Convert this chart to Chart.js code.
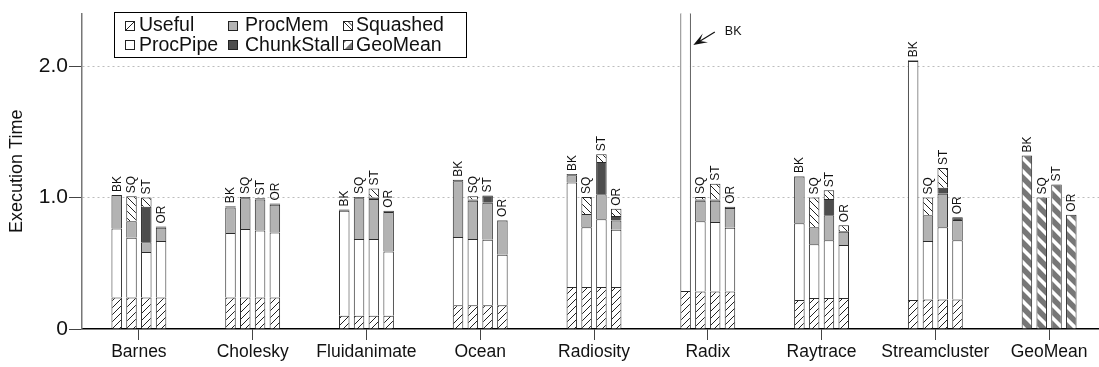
<!DOCTYPE html>
<html><head><meta charset="utf-8">
<script src="https://cdn.jsdelivr.net/npm/chart.js@4.4.0/dist/chart.umd.min.js"></script>
<style>html,body{margin:0;padding:0;background:#fff;overflow:hidden;}canvas{display:block;}</style>
</head><body>
<canvas id="c" width="1106" height="367" style="width:1106px;height:367px"></canvas>
<script>
const categories = ['Barnes','Cholesky','Fluidanimate','Ocean','Radiosity','Radix','Raytrace','Streamcluster','GeoMean'];
const configs = ['BK','SQ','ST','OR'];
const yTicks = [0, 1.0, 2.0];
// rows: BK, SQ, ST, OR ; columns: the 8 benchmarks
const useful = [
  [0.24,0.24,0.10,0.18,0.32,0.29,0.22,0.22],
  [0.24,0.24,0.10,0.18,0.32,0.285,0.235,0.225],
  [0.24,0.24,0.10,0.18,0.32,0.285,0.235,0.225],
  [0.24,0.24,0.10,0.18,0.32,0.285,0.235,0.225]];
const procPipe = [
  [0.525,0.49,0.80,0.52,0.795,3.0,0.585,1.82],
  [0.455,0.52,0.585,0.505,0.455,0.535,0.41,0.445],
  [0.345,0.51,0.585,0.50,0.515,0.53,0.44,0.55],
  [0.43,0.495,0.49,0.385,0.435,0.485,0.405,0.45]];
const procMem = [
  [0.255,0.195,0,0.425,0.055,0,0.355,0],
  [0.125,0.235,0.31,0.29,0.10,0.155,0.13,0.195],
  [0.075,0.235,0.305,0.28,0.19,0.16,0.19,0.255],
  [0.10,0.21,0.30,0.26,0.07,0.15,0.10,0.155]];
const chunkStall = [
  [0,0.01,0.01,0.01,0.01,0,0.005,0.005],
  [0,0.01,0.01,0.01,0,0.01,0,0],
  [0.27,0.01,0.01,0.055,0.245,0.01,0.125,0.045],
  [0.01,0.01,0.01,0.005,0.035,0.01,0.005,0.02]];
const squashed = [
  [0,0,0,0,0,0,0,0],
  [0.19,0,0,0.025,0.13,0.02,0.225,0.135],
  [0.07,0,0.07,0,0.06,0.12,0.065,0.15],
  [0,0,0,0,0.055,0,0.045,0]];
const geoMean = [1.32,1.00,1.10,0.87];

const FONT = "'Liberation Sans', Arial, Helvetica, sans-serif";

function makePattern(size, draw){
  const c = document.createElement('canvas'); c.width = size; c.height = size;
  const g = c.getContext('2d'); draw(g, size);
  return document.getElementById('c').getContext('2d').createPattern(c, 'repeat');
}
const usefulPat = makePattern(7, (g,s)=>{
  g.fillStyle='#fff'; g.fillRect(0,0,s,s);
  g.strokeStyle='#222'; g.lineWidth=1;
  g.beginPath(); g.moveTo(-1,s+1); g.lineTo(s+1,-1); g.moveTo(-1,1); g.lineTo(1,-1); g.moveTo(s-1,s+1); g.lineTo(s+1,s-1); g.stroke();
});
const squashPat = makePattern(7, (g,s)=>{
  g.fillStyle='#fff'; g.fillRect(0,0,s,s);
  g.strokeStyle='#222'; g.lineWidth=1;
  g.beginPath(); g.moveTo(-1,-1); g.lineTo(s+1,s+1); g.moveTo(s-1,-1); g.lineTo(s+1,1); g.moveTo(-1,s-1); g.lineTo(1,s+1); g.stroke();
});
const geoPat = makePattern(13, (g,s)=>{
  g.fillStyle='#fff'; g.fillRect(0,0,s,s);
  g.strokeStyle='#777'; g.lineWidth=5.5;
  g.beginPath();
  for (const o of [-s,0,s]) { g.moveTo(o-2,-2); g.lineTo(o+s+2,s+2); }
  g.stroke();
});
const COLORS = {Useful: usefulPat, ProcPipe:'#ffffff', ProcMem:'#b3b3b3', ChunkStall:'#4d4d4d', Squashed: squashPat, GeoMean: geoPat};

const comps = [
  ['Useful', useful], ['ProcPipe', procPipe], ['ProcMem', procMem], ['ChunkStall', chunkStall], ['Squashed', squashed]];

const datasets = [];
configs.forEach((cfg, ci) => {
  comps.forEach(([name, arr]) => {
    datasets.push({
      label: name, stack: cfg,
      data: categories.map((c,k) => (k < arr[ci].length && arr[ci][k]) ? arr[ci][k] : null),
      backgroundColor: COLORS[name], borderColor:'#2a2a2a', borderWidth:1, borderSkipped:'start'
    });
  });
});
configs.forEach((cfg, ci) => {
  datasets.push({
    label:'GeoMean', stack: cfg,
    data: categories.map((c,k) => k === categories.length-1 ? geoMean[ci] : null),
    backgroundColor: COLORS.GeoMean, borderColor:'#2a2a2a', borderWidth:1, borderSkipped:'start'
  });
});

const barLabels = {
  id:'barLabels',
  afterDatasetsDraw(chart){
    const ctx = chart.ctx, ys = chart.scales.y, area = chart.chartArea;
    const ds = chart.data.datasets;
    configs.forEach(cfg => {
      const idxs = ds.map((d,i)=>i).filter(i => ds[i].stack === cfg);
      categories.forEach((cat,k) => {
        let total = 0, bar = null;
        idxs.forEach(i => { const v = ds[i].data[k]; if (v != null) { total += v; bar = chart.getDatasetMeta(i).data[k]; } });
        if (!bar) return;
        const yTop = ys.getPixelForValue(total);
        ctx.save();
        ctx.fillStyle = '#111';
        if (yTop < area.top) {
          const r = bar.x + bar.width/2;
          ctx.font = '12.5px ' + FONT; ctx.textAlign='left'; ctx.textBaseline='middle';
          ctx.fillText(cfg, r + 34, area.top + 18);
          // arrow
          const tx = r + 24, ty = area.top + 18.5, hx = r + 2.5, hy = area.top + 31.5;
          const dx = hx - tx, dy = hy - ty, len = Math.hypot(dx,dy), ux = dx/len, uy = dy/len, nx = -uy, ny = ux;
          const L = 14, W = 5;
          ctx.strokeStyle='#111'; ctx.lineWidth=1.2;
          ctx.beginPath(); ctx.moveTo(tx,ty); ctx.lineTo(hx - ux*L*0.5, hy - uy*L*0.5); ctx.stroke();
          ctx.beginPath();
          ctx.moveTo(hx,hy);
          ctx.lineTo(hx - ux*L + nx*W, hy - uy*L + ny*W);
          ctx.lineTo(hx - ux*L*0.55, hy - uy*L*0.55);
          ctx.lineTo(hx - ux*L - nx*W, hy - uy*L - ny*W);
          ctx.closePath(); ctx.fill();
        } else {
          ctx.translate(bar.x, yTop - 3);
          ctx.rotate(-Math.PI/2);
          ctx.font = '12px ' + FONT; ctx.textAlign='left'; ctx.textBaseline='middle';
          ctx.fillText(cfg, 0, 0.5);
        }
        ctx.restore();
      });
    });
  }
};

const legendBox = {
  id:'legendBox',
  afterDraw(chart){
    const ctx = chart.ctx;
    const items = [
      ['Useful',125,139,0],['ProcPipe',125,139,1],
      ['ProcMem',228,245,0],['ChunkStall',228,245,1],
      ['Squashed',343,356,0],['GeoMean',343,356,1]];
    const rowY = [25, 44.5];
    ctx.save();
    ctx.fillStyle='#fff'; ctx.fillRect(114,12,353,45);
    ctx.strokeStyle='#000'; ctx.lineWidth=1; ctx.strokeRect(114.5,12.5,352,45);
    ctx.font = '19.5px ' + FONT; ctx.textBaseline='middle'; ctx.textAlign='left';
    items.forEach(([name, sx, tx, row]) => {
      const s = 9, y0 = Math.round(rowY[row] - s/2) + 0.5, x0 = sx + 0.5;
      const col = COLORS[name];
      ctx.save();
      if (typeof col === 'string') { ctx.fillStyle = col; ctx.fillRect(x0, y0, s, s); }
      else {
        ctx.fillStyle = '#fff'; ctx.fillRect(x0,y0,s,s);
        ctx.beginPath(); ctx.rect(x0,y0,s,s); ctx.clip();
        ctx.strokeStyle = '#222'; ctx.lineWidth = 1;
        if (name === 'Useful') { ctx.beginPath(); ctx.moveTo(x0,y0+s); ctx.lineTo(x0+s,y0); ctx.moveTo(x0-3,y0+3); ctx.lineTo(x0+3,y0-3); ctx.stroke(); }
        else if (name === 'Squashed') { ctx.beginPath(); ctx.moveTo(x0,y0); ctx.lineTo(x0+s,y0+s); ctx.moveTo(x0+4.5,y0); ctx.lineTo(x0+s,y0+4.5); ctx.stroke(); }
        else { ctx.fillStyle='#777'; ctx.beginPath(); ctx.moveTo(x0+s,y0+1); ctx.lineTo(x0+s,y0+s); ctx.lineTo(x0+1,y0+s); ctx.closePath(); ctx.fill();
               ctx.beginPath(); ctx.moveTo(x0,y0); ctx.lineTo(x0+3,y0); ctx.lineTo(x0,y0+3); ctx.closePath(); ctx.fill(); }
      }
      ctx.restore();
      ctx.strokeStyle='#222'; ctx.lineWidth=1; ctx.strokeRect(x0,y0,s,s);
      ctx.fillStyle='#111'; ctx.fillText(name, tx, rowY[row] + 1);
    });
    ctx.restore();
  }
};

new Chart(document.getElementById('c'), {
  type:'bar',
  data:{ labels: categories, datasets },
  options:{
    responsive:false, animation:false, devicePixelRatio:1,
    layout:{ padding:{ top:8, left:0, right:0, bottom:0 } },
    datasets:{ bar:{ categoryPercentage:0.52, barPercentage:0.71 } },
    plugins:{ legend:{display:false}, tooltip:{enabled:false} },
    scales:{
      x:{
        type:'category', stacked:true, offset:true,
        grid:{ offset:false, drawOnChartArea:false, drawTicks:true, tickLength:11, tickColor:'#444', tickWidth:1 },
        border:{ color:'#000', width:1.5 },
        ticks:{ font:{ size:17.5, family:FONT }, color:'#111', padding:2, maxRotation:0, autoSkip:false },
        afterFit(scale){ scale.height = 38; }
      },
      y:{
        stacked:true, min:0, max:2.4,
        afterBuildTicks(scale){ scale.ticks = yTicks.map(v => ({ value: v })); },
        ticks:{ includeBounds:false, font:{ size:21, family:FONT }, color:'#111', padding:1,
                callback: v => v === 0 ? '0' : Number(v).toFixed(1) },
        grid:{ color: c => (c.tick && c.tick.value === 0) ? 'rgba(0,0,0,0)' : '#bdbdbd', lineWidth:1,
               tickLength:13, tickColor:'#444', tickWidth:1, tickBorderDash:[] },
        border:{ color:'#777', width:1.5, dash:[2,3] },
        title:{ display:true, text:'Execution Time', font:{ size:18, family:FONT }, color:'#111', padding:{ top:6, bottom:0 } },
        afterFit(scale){ scale.width = 82; }
      }
    }
  },
  plugins:[barLabels, legendBox]
});
</script>
</body></html>
